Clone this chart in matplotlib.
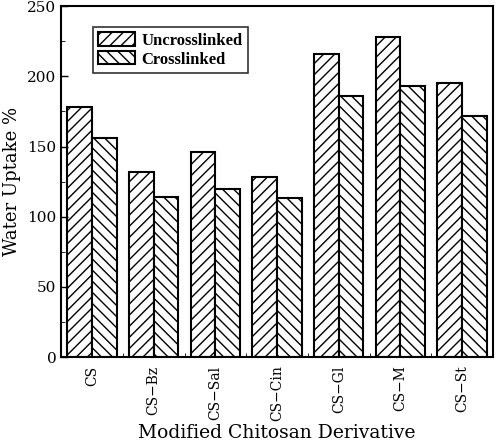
import numpy as np
import matplotlib
matplotlib.use('Agg')
import matplotlib.pyplot as plt
from matplotlib.ticker import MultipleLocator

plt.rcParams['font.family'] = 'DejaVu Serif'
plt.rcParams['hatch.linewidth'] = 1.0

categories = ['CS', 'CS\u2212Bz', 'CS\u2212Sal', 'CS\u2212Cin', 'CS\u2212Gl', 'CS\u2212M', 'CS\u2212St']
uncrosslinked = [178, 132, 146, 128, 216, 228, 195]
crosslinked = [156, 114, 120, 113, 186, 193, 172]

fig = plt.figure(figsize=(4.97, 4.43), dpi=100)
ax = fig.add_axes([0.123, 0.194, 0.869, 0.792])

x = np.arange(len(categories))
w = 0.4
ax.bar(x - w / 2, uncrosslinked, w, facecolor='white', edgecolor='black',
       hatch='///', linewidth=1.5, label='Uncrosslinked')
ax.bar(x + w / 2, crosslinked, w, facecolor='white', edgecolor='black',
       hatch='\\\\\\', linewidth=1.5, label='Crosslinked')

ax.set_xlim(-0.5, len(categories) - 0.5)
ax.set_ylim(0, 250)
ax.set_xticks(x)
ax.set_xticklabels(categories, rotation=90, fontsize=10)
ax.set_xticks(x[:-1] + 0.5, minor=True)
ax.yaxis.set_major_locator(MultipleLocator(50))
ax.yaxis.set_minor_locator(MultipleLocator(25))
ax.tick_params(axis='y', direction='in', labelsize=11, length=5, width=1)
ax.tick_params(axis='y', which='minor', direction='in', length=3)
ax.tick_params(axis='x', which='major', length=0, pad=6)
ax.tick_params(axis='x', which='minor', direction='in', length=3)
for s in ax.spines.values():
    s.set_linewidth(1.5)

ax.set_ylabel('Water Uptake %', fontsize=13)
ax.set_xlabel('Modified Chitosan Derivative', fontsize=13.5, labelpad=2)

leg = ax.legend(loc='upper left', bbox_to_anchor=(0.074, 0.94), frameon=True,
                fancybox=False, edgecolor='black', handlelength=2.2, handleheight=0.85,
                prop={'family': 'Liberation Serif', 'weight': 'bold', 'size': 12},
                borderpad=0.3, labelspacing=0.15, handletextpad=0.4, borderaxespad=0)
leg.get_frame().set_linewidth(1.2)

fig.savefig('out.png', dpi=100)
